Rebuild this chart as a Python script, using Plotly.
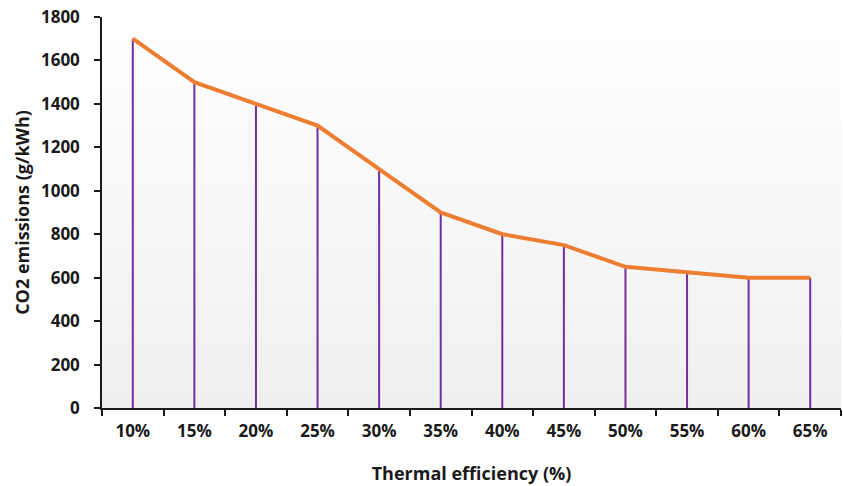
import plotly.graph_objects as go

# Thermal efficiency categories and CO2 emission values (g/kWh)
efficiency = ["10%", "15%", "20%", "25%", "30%", "35%", "40%", "45%", "50%", "55%", "60%", "65%"]
co2 = [1700, 1500, 1400, 1300, 1100, 900, 800, 750, 650, 625, 600, 600]
y_ticks = [0, 200, 400, 600, 800, 1000, 1200, 1400, 1600, 1800]

# Vertical drop lines from the axis up to each value
drop_x, drop_y = [], []
for cat, val in zip(efficiency, co2):
    drop_x += [cat, cat, None]
    drop_y += [0, val, None]

fig = go.Figure()
fig.add_trace(go.Scatter(
    x=drop_x, y=drop_y, mode="lines",
    line=dict(color="#7030A0", width=2), hoverinfo="skip", showlegend=False,
))
fig.add_trace(go.Scatter(
    x=efficiency, y=co2, mode="lines",
    line=dict(color="#ED7D31", width=4), showlegend=False,
))

# Vertical gradient background for the plotting area (white to light grey)
n_bands = 40
shapes = []
for i in range(n_bands):
    t = i / (n_bands - 1)
    g = round(255 - (255 - 239) * t)
    shapes.append(dict(
        type="rect", xref="x domain", yref="y domain",
        x0=0, x1=1, y0=1 - (i + 1) / n_bands, y1=1 - i / n_bands,
        fillcolor=f"rgb({g},{g},{g})", line=dict(width=0), layer="below",
    ))

font_family = "Open Sans, Arial, sans-serif"
fig.update_layout(
    width=843, height=486,
    margin=dict(l=102, r=2, t=17, b=78),
    paper_bgcolor="white", plot_bgcolor="rgba(0,0,0,0)",
    shapes=shapes,
    font=dict(family=font_family, color="#1a1a1a"),
    xaxis=dict(
        type="category", range=[-0.5, 11.5],
        showline=True, linecolor="#1a1a1a", linewidth=1.5,
        ticks="outside", tickson="boundaries", ticklen=6, tickcolor="#1a1a1a", tickwidth=1.5,
        showgrid=False, zeroline=False,
        tickfont=dict(size=17, family=font_family, weight="bold"),
        ticklabelstandoff=7,
        title=dict(text="Thermal efficiency (%)", standoff=26,
                   font=dict(size=18, family=font_family, weight="bold")),
    ),
    yaxis=dict(
        range=[0, 1800], tickvals=y_ticks,
        showline=True, linecolor="#1a1a1a", linewidth=1.5,
        ticks="outside", ticklen=6, tickcolor="#1a1a1a", tickwidth=1.5,
        showgrid=False, zeroline=False,
        tickfont=dict(size=17, family=font_family, weight="bold"),
        ticklabelstandoff=11,
        title=dict(text="CO2 emissions (g/kWh)", standoff=7,
                   font=dict(size=18, family=font_family, weight="bold")),
    ),
)

fig.write_html("out.html")
